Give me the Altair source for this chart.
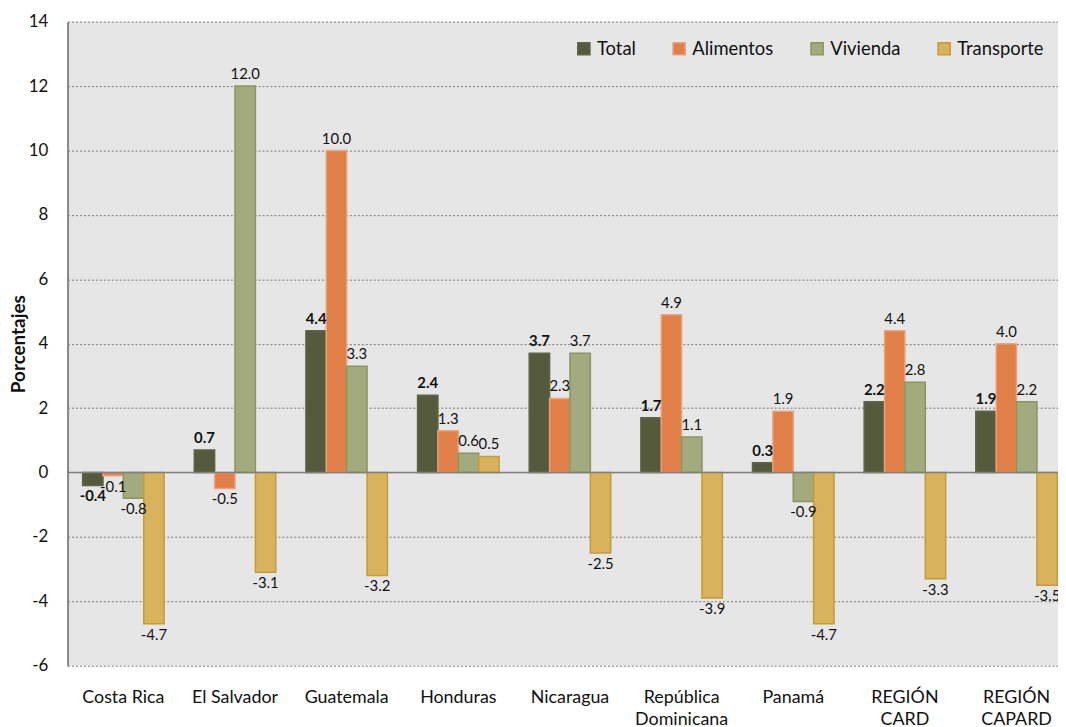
import altair as alt
import pandas as pd

categories = ["Costa Rica", "El Salvador", "Guatemala", "Honduras", "Nicaragua",
              "República|Dominicana", "Panamá", "REGIÓN|CARD", "REGIÓN|CAPARD"]
series = ["Total", "Alimentos", "Vivienda", "Transporte"]
total = [-0.4, 0.7, 4.4, 2.4, 3.7, 1.7, 0.3, 2.2, 1.9]
alimentos = [-0.1, -0.5, 10.0, 1.3, 2.3, 4.9, 1.9, 4.4, 4.0]
vivienda = [-0.8, 12.0, 3.3, 0.6, 3.7, 1.1, -0.9, 2.8, 2.2]
transporte = [-4.7, -3.1, -3.2, 0.5, -2.5, -3.9, -4.7, -3.3, -3.5]
fill_colors = ["#545A3B", "#E07F47", "#A3AA7D", "#D9B25E"]
stroke_colors = ["#5E6447", "#E8A47E", "#8A9560", "#C49A3A"]
y_ticks = [-6, -4, -2, 0, 2, 4, 6, 8, 10, 12, 14]

rows = []
for s, vals in zip(series, [total, alimentos, vivienda, transporte]):
    for c, v in zip(categories, vals):
        rows.append({"pais": c, "serie": s, "valor": v})
df = pd.DataFrame(rows)

FONT = "Lato"

x_enc = alt.X(
    "pais:N", sort=categories,
    scale=alt.Scale(domain=categories, range=[0, 1012.5], paddingInner=0.27, paddingOuter=0.135),
    axis=alt.Axis(title=None, labelExpr="split(datum.value, '|')", labelAngle=0,
                  labelFontSize=18, labelPadding=23, labelBaseline="top",
                  labelLineHeight=22, domain=False, ticks=False, grid=False,
                  labelColor="#111", labelFont=FONT),
)
xo_enc = alt.XOffset("serie:N", sort=series,
                     scale=alt.Scale(domain=series, paddingInner=0, paddingOuter=0))
y_enc = alt.Y(
    "valor:Q",
    scale=alt.Scale(domain=[-6, 14], nice=False, zero=False),
    axis=alt.Axis(values=y_ticks, title="Porcentajes", titleFontSize=19,
                  titleFontWeight="bold", titleColor="#111", titleFont=FONT,
                  titlePadding=0,
                  labelExpr="datum.value < 0 ? '-' + abs(datum.value) : '' + datum.value",
                  labelFontSize=17, labelColor="#111", labelFont=FONT, labelPadding=20,
                  ticks=False, domainColor="#888", domainWidth=2,
                  grid=True, gridColor="#777", gridDash=[2, 2], gridWidth=1),
)

legend_cfg = dict(title=None, orient="none", legendX=511, legendY=18,
                  direction="horizontal", symbolType="square",
                  symbolSize=150, labelFontSize=18.5, labelFont=FONT,
                  labelColor="#111", columnPadding=34, labelOffset=4,
                  symbolStrokeWidth=1.5, padding=0)

base = alt.Chart(df).transform_calculate(
    lab="(datum.valor < 0 ? '-' : '') + format(abs(datum.valor), '.1f')"
)

bars = base.mark_bar(strokeWidth=1.5).encode(
    x=x_enc, xOffset=xo_enc, y=y_enc,
    color=alt.Color("serie:N", sort=series,
                    scale=alt.Scale(domain=series, range=fill_colors),
                    legend=alt.Legend(**legend_cfg)),
    stroke=alt.Stroke("serie:N", sort=series,
                      scale=alt.Scale(domain=series, range=stroke_colors),
                      legend=alt.Legend(**legend_cfg)),
)

zero = alt.Chart(pd.DataFrame({"valor": [0]})).mark_rule(color="#808080", strokeWidth=1.5).encode(
    y=alt.Y("valor:Q")
)

def labels(filt, bold, pos):
    return base.transform_filter(filt).mark_text(
        baseline="bottom" if pos else "top", dy=-4 if pos else 4,
        fontSize=15, font=FONT, color="#111",
        fontWeight="bold" if bold else "normal",
    ).encode(x=x_enc, xOffset=xo_enc, y=y_enc, text="lab:N")

lt_pos = labels("datum.serie == 'Total' && datum.valor >= 0", True, True)
lt_neg = labels("datum.serie == 'Total' && datum.valor < 0", True, False)
lo_pos = labels("datum.serie != 'Total' && datum.valor >= 0", False, True)
lo_neg = labels("datum.serie != 'Total' && datum.valor < 0", False, False)

chart = alt.layer(bars, zero, lt_pos, lt_neg, lo_pos, lo_neg).properties(
    width=998, height=649,
    autosize=alt.AutoSizeParams(type="none"),
    padding={"left": 60, "top": 11, "right": 0, "bottom": 59},
    background="white",
).configure_view(fill="#E6E6E6", stroke=None).configure_axis(
    labelFont=FONT, titleFont=FONT
)

chart.save("out.html", embed_options={"renderer": "svg", "actions": False})
